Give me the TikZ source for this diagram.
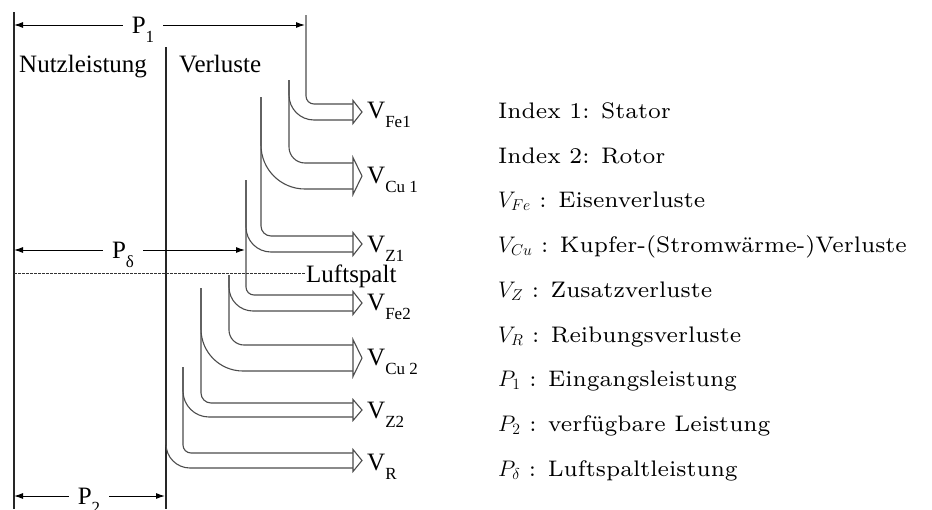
\documentclass[tikz,border=0pt]{standalone}
\usepackage{fix-cm}
\usepackage{fontspec}
\newfontfamily\tms{Liberation Serif}
\newfontfamily\lmseven{lmroman7-regular.otf}
\usetikzlibrary{arrows.meta}
\newcommand\lsub[1]{\raisebox{-9pt}{\fontsize{17}{17}\selectfont #1}}
\begin{document}
\begin{tikzpicture}[x=1pt,y=-1pt,
  band/.style={draw=black!70, line width=1.1pt},
  mainline/.style={draw=black!85, line width=1.3pt},
  dim/.style={draw=black, line width=1pt, {Latex[length=9pt,width=6pt]}-{Latex[length=9pt,width=6pt]}},
  tlab/.style={font=\tms\fontsize{25}{25}\selectfont, inner sep=0pt},
  dimlab/.style={tlab, fill=white, inner xsep=9pt, inner ysep=2pt, anchor=base},
  vlab/.style={tlab, anchor=base west},
  legend/.style={font=\lmseven\fontsize{22.5}{27}\selectfont, anchor=base west, inner sep=0pt},
  head/.style={band, fill=white, line join=miter},
  gap/.style={draw=black!80, line width=0.9pt, dash pattern=on 2.5pt off 1.5pt}
]
\useasboundingbox (0,0) rectangle (932,509);
% main vertical lines
\draw[mainline] (14,12) -- (14,509);
\draw[mainline] (166,47) -- (166,509);
% loss bands
\draw[band, rounded corners=8pt] (306,15) |- (353,104);
\draw[band, rounded corners=25pt] (289,80) |- (353,120);
\draw[band, rounded corners=16pt] (289,80) |- (353,163);
\draw[band, rounded corners=44pt] (261,97) |- (353,189);
\draw[band, rounded corners=10pt] (261,97) |- (353,236);
\draw[band, rounded corners=25pt] (246,180) |- (353,252);
\draw[band, rounded corners=8pt] (246,180) |- (353,295);
\draw[band, rounded corners=24pt] (229,275) |- (353,311);
\draw[band, rounded corners=15pt] (229,275) |- (353,345);
\draw[band, rounded corners=42pt] (201,288) |- (353,371);
\draw[band, rounded corners=10pt] (201,288) |- (353,403);
\draw[band, rounded corners=26pt] (183,367) |- (353,417);
\draw[band, rounded corners=8pt] (183,367) |- (353,453);
\draw[band, rounded corners=24pt] (166,430) |- (353,468);
% arrow heads
\draw[head] (353,100.5) -- (362,112) -- (353,123.5) -- cycle;
\draw[head] (353,157.5) -- (362,176) -- (353,194.5) -- cycle;
\draw[head] (353,232.5) -- (362,244) -- (353,255.5) -- cycle;
\draw[head] (353,291.5) -- (362,303) -- (353,314.5) -- cycle;
\draw[head] (353,339.5) -- (362,358) -- (353,376.5) -- cycle;
\draw[head] (353,399.5) -- (362,410) -- (353,420.5) -- cycle;
\draw[head] (353,449.5) -- (362,460.5) -- (353,471.5) -- cycle;
% air gap
\draw[gap] (14,273) -- (305,273);
\node[vlab] (luft) at (306,282) {Luftspalt};
% dimension arrows
\draw[dim] (14,25) -- (305,25);
\node[dimlab] (p1) at (143,33) {P\lsub{1}};
\draw[dim] (14,250) -- (245,250);
\node[dimlab] (pd) at (123,258) {P\lsub{δ}};
\draw[dim] (14,496) -- (165,496);
\node[dimlab] (p2) at (89,504) {P\lsub{2}};
% headings
\node[vlab] (nutz) at (19,72) {Nutzleistung};
\node[vlab] (verl) at (179,72) {Verluste};
% loss labels
\node[vlab] (vfe1) at (367,118) {V\lsub{Fe1}};
\node[vlab] (vcu1) at (367,183) {V\lsub{Cu 1}};
\node[vlab] (vz1) at (367,252) {V\lsub{Z1}};
\node[vlab] (vfe2) at (367,310) {V\lsub{Fe2}};
\node[vlab] (vcu2) at (367,365) {V\lsub{Cu 2}};
\node[vlab] (vz2) at (367,418) {V\lsub{Z2}};
\node[vlab] (vr) at (367,470) {V\lsub{R}};
% legend
\node[legend] (l1) at (498,118) {Index 1: Stator};
\node[legend] (l2) at (498,163) {Index 2: Rotor};
\node[legend] (l3) at (498,207) {$V_{Fe}$ : Eisenverluste};
\node[legend] (l4) at (498,252) {$V_{Cu}$ : Kupfer-(Stromwärme-)Verluste};
\node[legend] (l5) at (498,297) {$V_Z$ : Zusatzverluste};
\node[legend] (l6) at (498,342) {$V_R$ : Reibungsverluste};
\node[legend] (l7) at (498,386) {$P_1$ : Eingangsleistung};
\node[legend] (l8) at (498,431) {$P_2$ : verfügbare Leistung};
\node[legend] (l9) at (498,476) {$P_\delta$ : Luftspaltleistung};
\end{tikzpicture}
\end{document}
